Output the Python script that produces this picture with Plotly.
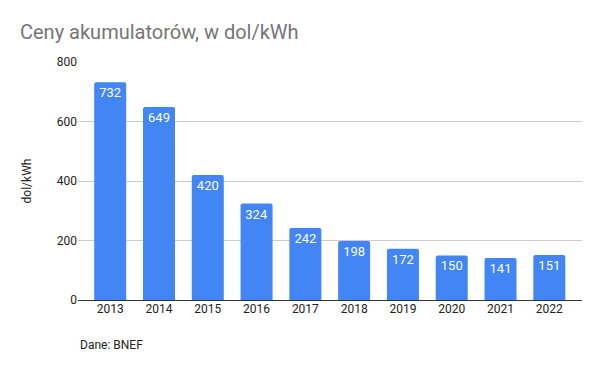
import plotly.graph_objects as go

years = ["2013", "2014", "2015", "2016", "2017", "2018", "2019", "2020", "2021", "2022"]
prices = [732, 649, 420, 324, 242, 198, 172, 150, 141, 151]
y_ticks = [0, 200, 400, 600, 800]

# page renders with an 8px body margin, so compensate
OFF = 8
W, H = 600, 371
L, T, R, B = 78 - OFF, 62 - OFF, 18 + OFF, 71 + OFF
plot_h = H - T - B

fig = go.Figure(go.Bar(
    x=years, y=prices,
    marker=dict(color="#4285F4", line=dict(width=0)),
    width=0.656,
    text=[str(v) for v in prices],
    textposition="inside",
    insidetextanchor="end",
    textangle=0,
    textfont=dict(color="white", size=13, family="Roboto"),
    cliponaxis=False,
))

fig.update_layout(
    width=W, height=H,
    margin=dict(l=L, r=R, t=T, b=B, autoexpand=False),
    paper_bgcolor="white", plot_bgcolor="white",
    font=dict(family="Roboto", size=12, color="#222222"),
    barcornerradius=2,
    title=dict(text="Ceny akumulatorów, w dol/kWh", x=(20 - OFF) / W, xanchor="left",
               y=1 - (32 - OFF) / H, yanchor="middle",
               font=dict(size=20, color="#757575", family="Roboto")),
    xaxis=dict(type="category", range=[-0.66, 9.67], showgrid=False, automargin=False,
               ticks="", tickfont=dict(size=12, color="#222222"), showline=False),
    yaxis=dict(range=[0, 800], tickvals=y_ticks, showgrid=True, gridcolor="#cccccc",
               gridwidth=1, zeroline=True, zerolinecolor="#333333", zerolinewidth=1.3,
               automargin=False,
               tickfont=dict(size=12, color="#222222"), ticks="", ticklen=0,
               title=dict(text="dol/kWh", font=dict(size=12, color="#222222"), standoff=22)),
    annotations=[dict(text="Dane: BNEF", x=0, y=-(345 - 300) / plot_h, xref="paper", yref="paper",
                      xanchor="left", yanchor="middle", showarrow=False,
                      font=dict(size=12, color="#222222", family="Roboto"))],
    showlegend=False,
)

fig.write_html("out.html")
